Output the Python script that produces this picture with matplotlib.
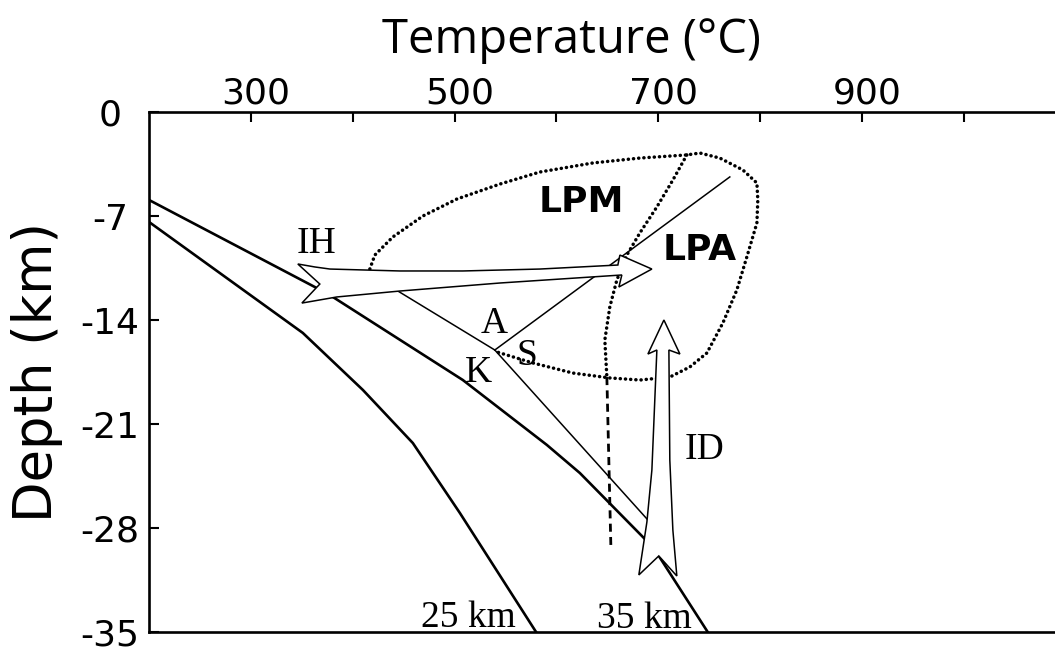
import matplotlib
matplotlib.use("Agg")
import matplotlib.pyplot as plt
from matplotlib.patches import Polygon
from matplotlib.transforms import ScaledTranslation

plt.rcParams["axes.unicode_minus"] = False

# Geotherms: temperature (°C) vs depth (km)
geo25_T = [200, 351.0, 410.0, 459.0, 505.2, 580.0]
geo25_D = [-7.40, -14.87, -18.71, -22.28, -26.99, -35.0]
geo35_T = [200, 362.8, 380.5, 508.1, 590.6, 623.0, 686.8, 700.5, 748.5]
geo35_D = [-5.92, -11.78, -12.45, -18.04, -22.41, -24.30, -28.74, -29.88, -35.0]

# Aluminosilicate reactions from the triple point
ka_T = [426.6, 539.5]
ka_D = [-11.31, -16.02]
as_T = [539.5, 770.2]
as_D = [-16.02, -4.37]
ks_T = [539.5, 690.7]
ks_D = [-16.02, -27.53]

# Vertical dashed boundary below the LPA field
dash_T = [649.5, 653.4]
dash_D = [-17.84, -29.14]

# Low-pressure metamorphism field (outer dotted outline)
lpm_T = [416.8, 421.7, 439.4, 468.9, 502.2, 544.5, 583.7, 635.8, 681.9, 728.0,
         740.8, 760.4, 783.0, 796.8, 797.7, 796.8, 786.9, 777.1, 763.4, 747.7,
         731.0, 711.3, 681.9, 652.4, 616.1, 576.8, 541.5]
lpm_D = [-10.57, -9.63, -8.41, -7.00, -5.86, -4.85, -4.04, -3.43, -3.10, -2.89,
         -2.76, -3.10, -3.90, -4.78, -5.92, -7.47, -9.76, -11.98, -14.20, -16.22,
         -17.16, -17.84, -18.04, -17.90, -17.57, -16.89, -16.15]

# Inner dotted boundary of the LPA field
lpa_T = [728.0, 714.3, 698.6, 681.9, 669.1, 659.3, 652.4, 647.5, 649.5]
lpa_D = [-2.89, -4.58, -6.39, -8.14, -9.63, -11.31, -13.12, -15.35, -17.84]

# Isobaric heating path (IH) outline
ih_T = [346.1, 362.8, 377.6, 446.3, 508.1, 583.7, 660.3, 662.3, 693.7, 661.3,
        664.2, 544.5, 446.3, 384.4, 350.1, 367.7]
ih_D = [-10.23, -10.43, -10.57, -10.70, -10.70, -10.57, -10.30, -9.63, -10.57, -11.78,
        -10.97, -11.51, -12.05, -12.45, -12.86, -11.58]

# Isothermal decompression path (ID) outline
id_T = [705.5, 721.2, 710.4, 711.3, 714.3, 718.2, 700.5, 680.9, 688.8, 693.7, 698.6, 689.8]
id_D = [-14.00, -16.29, -16.02, -23.42, -28.14, -31.23, -29.88, -31.16, -27.60, -24.10, -16.02, -16.29]

# Labels: (text, T, depth)
serif_labels = [("IH", 364.8, -9.49), ("A", 538.6, -14.87), ("K", 523.8, -18.17),
                ("S", 571.5, -17.03), ("ID", 745.7, -23.36),
                ("25 km", 514.0, -34.66), ("35 km", 686.8, -34.73)]
field_labels = [("LPM", 624.0, -6.73), ("LPA", 740.8, -9.96)]

x_major = [300, 500, 700, 900]
x_minor = [400, 600, 800, 1000]
y_ticks = [-35, -28, -21, -14, -7, 0]

fig = plt.figure(figsize=(10.55, 6.52), dpi=100)
ax = fig.add_axes([149 / 1055, 20 / 652, 906 / 1055, 520 / 652])
ax.set_xlim(200, 200 + 906 / 1.0186)
ax.set_ylim(-35, 0)

ax.plot(geo25_T, geo25_D, color="black", lw=1.9, zorder=2, solid_joinstyle="round")
ax.plot(geo35_T, geo35_D, color="black", lw=1.9, zorder=2, solid_joinstyle="round")
for tt, dd in [(ka_T, ka_D), (as_T, as_D), (ks_T, ks_D)]:
    ax.plot(tt, dd, color="black", lw=1.1, zorder=2)
ax.plot(dash_T, dash_D, color="black", lw=2.0, linestyle=(0, (2.9, 1.9)), zorder=2)

dotted = dict(color="black", lw=2.5, linestyle=(0, (0.05, 1.45)),
              dash_capstyle="round", zorder=2)
ax.plot(lpm_T, lpm_D, **dotted)
ax.plot(lpa_T, lpa_D, **dotted)

for tt, dd in [(ih_T, ih_D), (id_T, id_D)]:
    ax.add_patch(Polygon(list(zip(tt, dd)), closed=True, facecolor="white",
                         edgecolor="black", lw=1.1, joinstyle="miter", zorder=3))

for txt, t, d in serif_labels:
    ax.text(t, d, txt, family="Liberation Serif", fontsize=27, ha="center",
            va="baseline", zorder=4)
for txt, t, d in field_labels:
    ax.text(t, d, txt, family="DejaVu Sans", fontweight="bold", fontsize=26,
            ha="center", va="baseline", zorder=4)

for side in ["left", "top", "bottom"]:
    ax.spines[side].set_linewidth(1.9)
ax.spines["right"].set_visible(False)

ax.xaxis.tick_top()
ax.set_xticks(x_major)
ax.set_xticks(x_minor, minor=True)
ax.set_yticks(y_ticks)
ax.tick_params(axis="x", which="both", direction="in", length=7, width=1.5,
               top=True, bottom=False, labeltop=True, labelbottom=False,
               labelsize=26, pad=1)
ax.tick_params(axis="y", direction="in", length=7, width=1.5, labelsize=26, pad=28)
for lab in ax.get_yticklabels():
    lab.set_horizontalalignment("center")
shift = ScaledTranslation(5 / 100, 0, fig.dpi_scale_trans)
for lab in ax.get_xticklabels():
    lab.set_transform(lab.get_transform() + shift)

fig.text(571.5 / 1055, 1 - 53 / 652, "Temperature (°C)", family="Open Sans",
         fontsize=34, ha="center", va="baseline")
fig.text(37 / 1055, 1 - 372 / 652, "Depth (km)", family="DejaVu Sans",
         fontsize=38, rotation=90, ha="center", va="center")

fig.savefig("out.png", dpi=100)
